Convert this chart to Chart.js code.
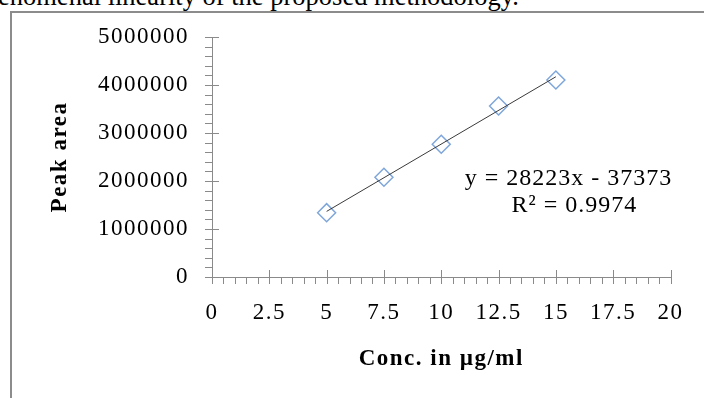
<!DOCTYPE html>
<html>
<head>
<meta charset="utf-8">
<script src="https://cdn.jsdelivr.net/npm/chart.js@4/dist/chart.umd.min.js"></script>
<style>
  html, body { margin: 0; padding: 0; background: #fff; overflow: hidden; }
  #page { position: relative; width: 704px; height: 398px; overflow: hidden; }
  #lead {
    position: absolute; left: -28.5px; top: -17.5px;
    font: 26.5px/26.5px 'Liberation Serif', serif; white-space: nowrap; color: #000;
  }
  #frame {
    position: absolute; left: 10px; top: 11px; width: 720px; height: 400px;
    border-left: 2px solid #8c8c8c; border-top: 2px solid #8c8c8c;
  }
  #chart-box { position: absolute; left: 0; top: 0; width: 704px; height: 398px; }
</style>
</head>
<body>
<div id="page">
  <div id="lead">phenomenal linearity of the proposed methodology.</div>
  <div id="frame"></div>
  <div id="chart-box"><canvas id="my-chart"></canvas></div>
</div>
<script>
'use strict';

// calibration points
const concX = [5, 7.5, 10, 12.5, 15];
const peakArea = [1340000, 2077000, 2765000, 3562000, 4104000];

// axis tick labels
const xTickLabels = [0, 2.5, 5, 7.5, 10, 12.5, 15, 17.5, 20];
const yTickLabels = [0, 1000000, 2000000, 3000000, 4000000, 5000000];

const equationLines = ['y = 28223x - 37373', 'R\u00B2 = 0.9974'];

const AXIS_GREY = '#8a8a8a';
const SERIF = "'Liberation Serif', 'Times New Roman', serif";

// least squares trend line through the points
function trendLine(xs, ys) {
  let n = xs.length;
  let mx = 0;
  let my = 0;
  for (let i = 0; i < n; i++) {
    mx += xs[i] / n;
    my += ys[i] / n;
  }
  let sxy = 0;
  let sxx = 0;
  for (let i = 0; i < n; i++) {
    sxy += (xs[i] - mx) * (ys[i] - my);
    sxx += (xs[i] - mx) * (xs[i] - mx);
  }
  let slope = sxy / sxx;
  let icpt = my - slope * mx;
  let x0 = Math.min(...xs);
  let x1 = Math.max(...xs);
  return [{x: x0, y: icpt + slope * x0}, {x: x1, y: icpt + slope * x1}];
}

// the source renders its text quite wide, so spread the glyphs a bit
const wideText = {
  id: 'wideText',
  beforeDraw(chart) {
    chart.ctx.letterSpacing = '1.5px';
  }
};

// major ticks cross the axis, minor ticks sit outside only
const tickMarks = {
  id: 'tickMarks',
  afterDraw(chart) {
    const ctx = chart.ctx;
    const xs = chart.scales.x;
    const ys = chart.scales.y;
    const left = chart.chartArea.left;
    const bottom = chart.chartArea.bottom;
    const len = 7;
    ctx.save();
    ctx.strokeStyle = AXIS_GREY;
    ctx.lineWidth = 1;
    ctx.beginPath();
    for (let i = 0; i < yTickLabels.length; i++) {
      let py = Math.round(ys.getPixelForValue(yTickLabels[i])) + 0.5;
      ctx.moveTo(left - len, py);
      ctx.lineTo(left + len, py);
      if (i < yTickLabels.length - 1) {
        let step = (yTickLabels[i + 1] - yTickLabels[i]) / 5;
        for (let k = 1; k < 5; k++) {
          let pm = Math.round(ys.getPixelForValue(yTickLabels[i] + k * step)) + 0.5;
          ctx.moveTo(left - len, pm);
          ctx.lineTo(left, pm);
        }
      }
    }
    for (let i = 0; i < xTickLabels.length; i++) {
      let px = Math.round(xs.getPixelForValue(xTickLabels[i])) + 0.5;
      ctx.moveTo(px, bottom - len);
      ctx.lineTo(px, bottom + len);
      if (i < xTickLabels.length - 1) {
        let step = (xTickLabels[i + 1] - xTickLabels[i]) / 5;
        for (let k = 1; k < 5; k++) {
          let pm = Math.round(xs.getPixelForValue(xTickLabels[i] + k * step)) + 0.5;
          ctx.moveTo(pm, bottom);
          ctx.lineTo(pm, bottom + len);
        }
      }
    }
    ctx.stroke();
    ctx.restore();
  }
};

// regression equation text beside the line
const equationLabel = {
  id: 'equationLabel',
  afterDatasetsDraw(chart) {
    const ctx = chart.ctx;
    let px = chart.scales.x.getPixelForValue(15.55);
    let py = chart.scales.y.getPixelForValue(1917000);
    ctx.save();
    ctx.letterSpacing = '1px';
    ctx.font = '24px ' + SERIF;
    ctx.fillStyle = '#000';
    ctx.textAlign = 'center';
    ctx.textBaseline = 'alphabetic';
    ctx.fillText(equationLines[0], px, py);
    ctx.fillText(equationLines[1], px + 6, py + 26.7);
    ctx.restore();
  }
};

Chart.defaults.font.family = SERIF;
Chart.defaults.color = '#000';

const chartCtx = document.getElementById('my-chart').getContext('2d');

let myChart = new Chart(chartCtx, {
  type: 'scatter',
  data: {
    datasets: [{
      label: 'trend',
      data: trendLine(concX, peakArea),
      showLine: true,
      borderColor: '#3a3a3a',
      borderWidth: 1,
      pointRadius: 0
    },
    {
      label: 'Peak area',
      data: concX.map((c, i) => ({x: c, y: peakArea[i]})),
      pointStyle: 'rectRot',
      pointRadius: 9,
      borderColor: '#7ea6da',
      backgroundColor: 'rgba(0, 0, 0, 0)',
      pointBorderWidth: 1.5
    }]
  },
  options: {
    responsive: true,
    maintainAspectRatio: false,
    animation: false,
    layout: {
      padding: {top: 37, right: 31, bottom: 0, left: 0}
    },
    plugins: {
      legend: {display: false},
      tooltip: {enabled: false}
    },
    scales: {
      x: {
        type: 'linear',
        min: 0,
        max: 20,
        afterBuildTicks: (scale) => {
          scale.ticks = xTickLabels.map(v => ({value: v}));
        },
        afterFit: (scale) => {
          scale.height = 121;
        },
        grid: {display: false, drawTicks: false},
        border: {display: true, color: AXIS_GREY, width: 1},
        ticks: {
          padding: 22,
          maxRotation: 0,
          font: {size: 23},
          callback: (v) => String(v)
        },
        title: {
          display: true,
          text: 'Conc. in \u00B5g/ml',
          font: {size: 23, weight: 'bold'},
          padding: {top: 0, bottom: 25}
        }
      },
      y: {
        min: 0,
        max: 5000000,
        afterBuildTicks: (scale) => {
          scale.ticks = yTickLabels.map(v => ({value: v}));
        },
        afterFit: (scale) => {
          scale.width = 212;
        },
        grid: {display: false, drawTicks: false},
        border: {display: true, color: AXIS_GREY, width: 1},
        ticks: {
          padding: 23,
          font: {size: 23},
          callback: (v) => String(v)
        },
        title: {
          display: true,
          text: 'Peak area',
          font: {size: 23, weight: 'bold'},
          padding: {top: 46, bottom: 0}
        }
      }
    }
  },
  plugins: [wideText, tickMarks, equationLabel]
});
</script>
</body>
</html>
